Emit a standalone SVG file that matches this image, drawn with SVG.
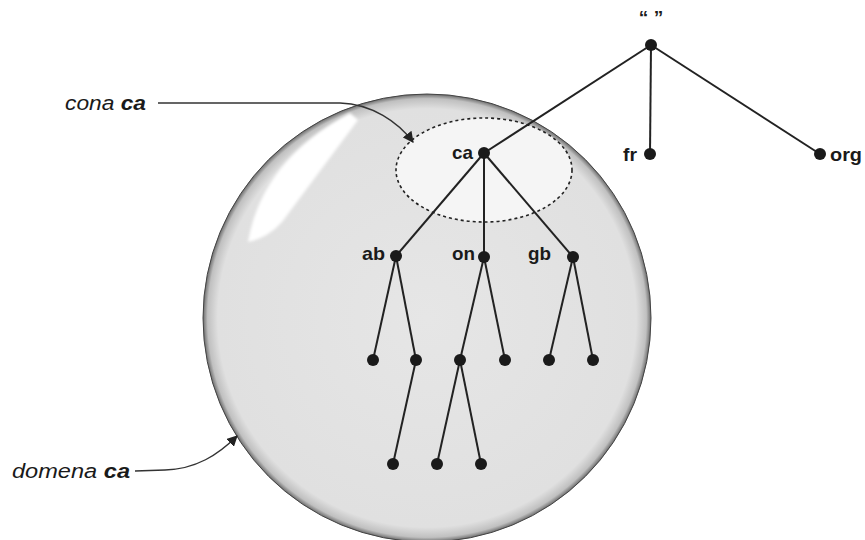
<svg xmlns="http://www.w3.org/2000/svg" width="865" height="540" viewBox="0 0 865 540">
<defs>
<radialGradient id="ball" cx="427" cy="318" r="225" gradientUnits="userSpaceOnUse">
<stop offset="0" stop-color="#e6e6e6"/>
<stop offset="0.93" stop-color="#e0e0e0"/>
<stop offset="0.975" stop-color="#c0c0c0"/>
<stop offset="1" stop-color="#5a5a5a"/>
</radialGradient>
<filter id="soft" x="-20%" y="-20%" width="140%" height="140%">
<feGaussianBlur stdDeviation="1.8"/>
</filter>
<marker id="arr" viewBox="0 0 10 10" refX="9" refY="5" markerWidth="11" markerHeight="11" markerUnits="userSpaceOnUse" orient="auto">
<path d="M0,0 L10,5 L0,10 z" fill="#222"/>
</marker>
<style>
.edge{stroke:#222;stroke-width:2;fill:none}
.dot{fill:#1a1a1a}
.lbl{font-family:"Liberation Sans",Arial,sans-serif;font-weight:bold;font-size:19px;fill:#1a1a1a}
.call{font-family:"Liberation Sans",Arial,sans-serif;font-style:italic;font-size:20px;fill:#1a1a1a}
.callb{font-weight:bold}
.lead{stroke:#333;stroke-width:1.4;fill:none}
</style>
</defs>
<g id="domain">
<circle cx="427" cy="318" r="224" fill="url(#ball)" stroke="#444" stroke-width="1"/>
<path d="M248,242 Q262,160 350,113 L358,120 L282,222 Q268,238 248,242 Z" fill="#ffffff" filter="url(#soft)"/>
</g>
<g id="zone">
<ellipse cx="484" cy="170" rx="88" ry="52" fill="#f5f5f5" stroke="#222" stroke-width="1.6" stroke-dasharray="3,3"/>
</g>
<g id="connectors">
<line class="edge" x1="651" y1="45" x2="484" y2="153"/>
<line class="edge" x1="651" y1="45" x2="650" y2="154"/>
<line class="edge" x1="651" y1="45" x2="820" y2="154"/>
<line class="edge" x1="484" y1="153" x2="396" y2="256"/>
<line class="edge" x1="484" y1="153" x2="484" y2="257"/>
<line class="edge" x1="484" y1="153" x2="573" y2="257"/>
<line class="edge" x1="396" y1="256" x2="373" y2="360"/>
<line class="edge" x1="396" y1="256" x2="416" y2="360"/>
<line class="edge" x1="484" y1="257" x2="460" y2="360"/>
<line class="edge" x1="484" y1="257" x2="505" y2="360"/>
<line class="edge" x1="573" y1="257" x2="549" y2="360"/>
<line class="edge" x1="573" y1="257" x2="593" y2="360"/>
<line class="edge" x1="416" y1="360" x2="393" y2="464"/>
<line class="edge" x1="460" y1="360" x2="437" y2="464"/>
<line class="edge" x1="460" y1="360" x2="481" y2="464"/>
<path class="lead" d="M158,103 L340,103 C372,104 398,122 413,142" marker-end="url(#arr)"/>
<path class="lead" d="M135,471 L165,470 C196,469 218,455 237,436" marker-end="url(#arr)"/>
</g>
<g id="root"><circle class="dot" cx="651" cy="45" r="6"/><text class="lbl" x="651" y="24" text-anchor="middle" font-size="15">“ ”</text></g>
<g id="fr"><circle class="dot" cx="650" cy="154" r="6"/><text class="lbl" x="623" y="161" textLength="14" lengthAdjust="spacingAndGlyphs">fr</text></g>
<g id="org"><circle class="dot" cx="820" cy="154" r="6"/><text class="lbl" x="830" y="161" textLength="32" lengthAdjust="spacingAndGlyphs">org</text></g>
<g id="ca"><circle class="dot" cx="484" cy="153" r="6"/><text class="lbl" x="452" y="159" textLength="21" lengthAdjust="spacingAndGlyphs">ca</text></g>
<g id="ab"><circle class="dot" cx="396" cy="256" r="6"/><text class="lbl" x="362" y="260" textLength="23" lengthAdjust="spacingAndGlyphs">ab</text></g>
<g id="on"><circle class="dot" cx="484" cy="257" r="6"/><text class="lbl" x="452" y="260" textLength="23" lengthAdjust="spacingAndGlyphs">on</text></g>
<g id="gb"><circle class="dot" cx="573" cy="257" r="6"/><text class="lbl" x="528" y="260" textLength="23" lengthAdjust="spacingAndGlyphs">gb</text></g>
<g id="n1"><circle class="dot" cx="373" cy="360" r="6"/></g>
<g id="n2"><circle class="dot" cx="416" cy="360" r="6"/></g>
<g id="n3"><circle class="dot" cx="460" cy="360" r="6"/></g>
<g id="n4"><circle class="dot" cx="505" cy="360" r="6"/></g>
<g id="n5"><circle class="dot" cx="549" cy="360" r="6"/></g>
<g id="n6"><circle class="dot" cx="593" cy="360" r="6"/></g>
<g id="n7"><circle class="dot" cx="393" cy="464" r="6"/></g>
<g id="n8"><circle class="dot" cx="437" cy="464" r="6"/></g>
<g id="n9"><circle class="dot" cx="481" cy="464" r="6"/></g>
<g id="cona-label"><text class="call" x="65" y="110" textLength="81" lengthAdjust="spacingAndGlyphs">cona <tspan class="callb">ca</tspan></text></g>
<g id="domena-label"><text class="call" x="12" y="478" textLength="118" lengthAdjust="spacingAndGlyphs">domena <tspan class="callb">ca</tspan></text></g>
</svg>
